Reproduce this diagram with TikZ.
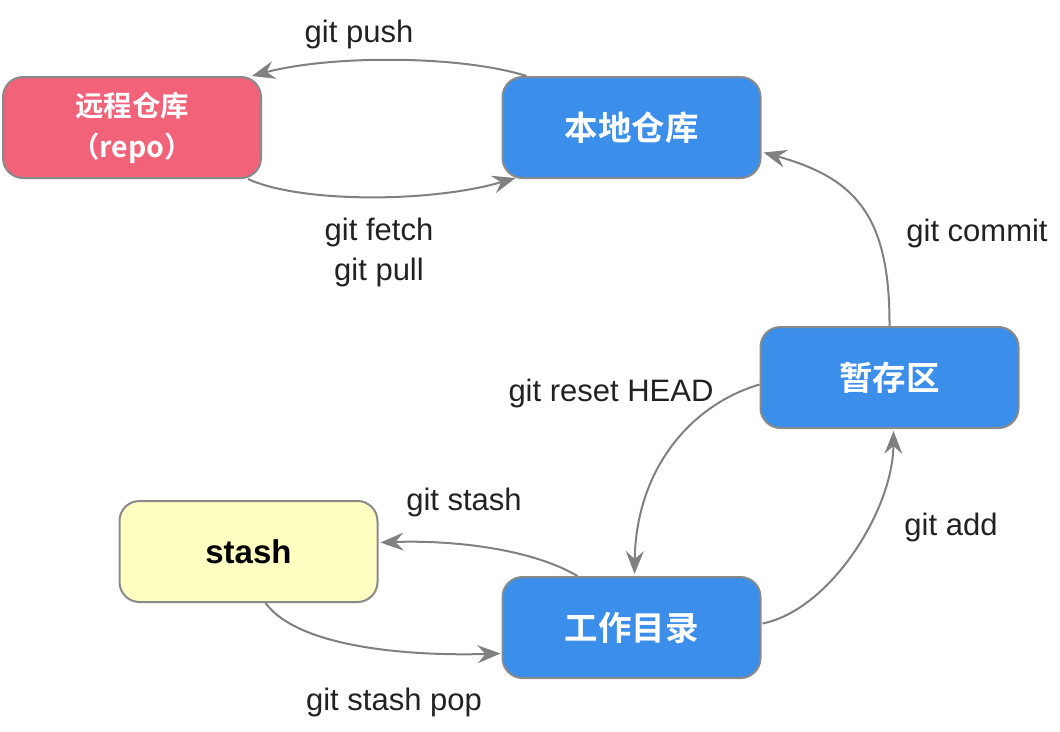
\documentclass[tikz,border=0pt]{standalone}
\usepackage{fontspec}
\setmainfont{Liberation Sans}
\newfontfamily\cjk{Noto Sans CJK SC}[BoldFont={Noto Sans CJK SC Bold}]
\usetikzlibrary{arrows.meta,calc}
\definecolor{pinkc}{HTML}{F2637A}
\definecolor{bluec}{HTML}{3B8EEA}
\definecolor{yellowc}{HTML}{FFFFC2}
\definecolor{bordergray}{HTML}{8A8A8A}
\definecolor{linegray}{HTML}{808080}
\definecolor{labelc}{HTML}{222222}
\tikzset{
  box/.style={draw=bordergray, line width=2pt, rounded corners=20pt, minimum width=258pt, minimum height=101pt, inner sep=0pt, align=center},
  cjkbox/.style={box, fill=bluec, text=white, font=\cjk\bfseries\fontsize{33.5}{38}\selectfont},
  arr/.style={draw=linegray, line width=2pt, -{Stealth[length=23pt,width=18pt,inset=8pt]}},
  lbl/.style={font=\fontsize{31}{40}\selectfont, text=labelc, align=center, inner sep=0pt},
}
\begin{document}
\begin{tikzpicture}[x=1pt,y=-1pt]
\useasboundingbox (0,0) rectangle (1060,731);
\node[box, fill=pinkc, text=white, font=\cjk\bfseries\fontsize{28.5}{41}\selectfont] (remote) at (132,127.5) {远程仓库\\（repo）};
\node[cjkbox] (local) at (631.5,127.5) {本地仓库};
\node[cjkbox] (stage) at (889.5,377.5) {暂存区};
\node[cjkbox] (work) at (631.5,627.5) {工作目录};
\node[box, fill=yellowc, text=black, font=\bfseries\fontsize{33}{38}\selectfont] (stash) at (248.5,551.5) {stash};

\draw[arr] ($(local.north west)+(25,0)$) .. controls (460,55) and (330,55) .. ($(remote.north east)+(-10,0)$);
\draw[arr] ($(remote.south east)+(-14,0)$) .. controls (300,203) and (430,203) .. ($(local.south west)+(14,-1)$);
\draw[arr] (stage.north) .. controls (890,215) and (855,178) .. ($(local.east)+(2,25)$);
\draw[arr] ($(work.east)+(1,-4)$) .. controls (830,610) and (893,510) .. ($(stage.south)+(4,2)$);
\draw[arr] ($(stage.west)+(0,7)$) .. controls (690,405) and (636,470) .. ($(work.north)+(3,-2)$);
\draw[arr] ($(work.north)+(-54,0)$) .. controls (530,548) and (450,540) .. ($(stash.east)+(2,-9)$);
\draw[arr] ($(stash.south)+(17,0)$) .. controls (300,650) and (420,656) .. ($(work.west)+(-1,26)$);

\node[lbl] (lpush) at (359,34) {git push};
\node[lbl] (lfetch) at (379,252) {git fetch\\git pull};
\node[lbl] (lcommit) at (977,233) {git commit};
\node[lbl] (lreset) at (611,393) {git reset HEAD};
\node[lbl] (lstash) at (464,502) {git stash};
\node[lbl] (ladd) at (951,527) {git add};
\node[lbl] (lpop) at (394,702) {git stash pop};
\end{tikzpicture}
\end{document}
